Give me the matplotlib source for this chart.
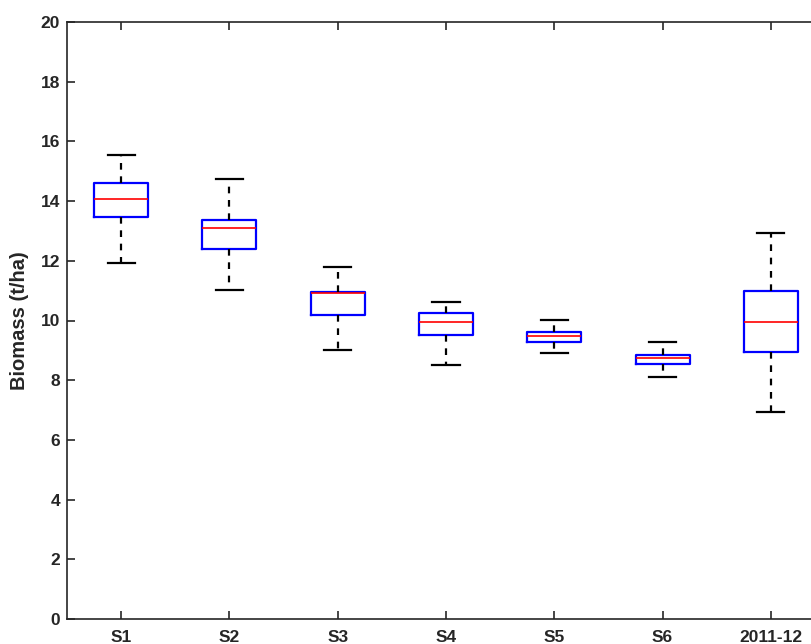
import matplotlib
matplotlib.use("Agg")
import matplotlib.pyplot as plt

# Box statistics (t/ha)
groups = ["S1", "S2", "S3", "S4", "S5", "S6", "2011-12"]
whisker_low = [11.92, 11.03, 9.01, 8.51, 8.90, 8.10, 6.93]
q1 = [13.46, 12.40, 10.17, 9.52, 9.28, 8.53, 8.94]
median = [14.08, 13.10, 10.91, 9.96, 9.47, 8.76, 9.95]
q3 = [14.62, 13.37, 10.97, 10.24, 9.60, 8.85, 10.99]
whisker_high = [15.56, 14.75, 11.80, 10.61, 10.02, 9.27, 12.93]

plt.rcParams["font.family"] = ["Liberation Sans", "DejaVu Sans"]
plt.rcParams["font.weight"] = "bold"

axis_color = "#262626"

fig = plt.figure(figsize=(8.12, 6.44), dpi=100)
# right edge of the axes runs past the figure, as in the cropped reference
ax = fig.add_axes([67 / 812, 1 - 619 / 644, 758 / 812, 597 / 644])

stats = []
for i, name in enumerate(groups):
    stats.append({
        "label": name,
        "whislo": whisker_low[i],
        "q1": q1[i],
        "med": median[i],
        "q3": q3[i],
        "whishi": whisker_high[i],
        "fliers": [],
    })

ax.bxp(
    stats,
    positions=range(1, len(groups) + 1),
    widths=0.5,
    showfliers=False,
    boxprops=dict(color="blue", linewidth=1.6),
    medianprops=dict(color="red", linewidth=1.2),
    whiskerprops=dict(color="black", linestyle=(0, (3, 3)), linewidth=1.6),
    capprops=dict(color="black", linewidth=1.6),
    capwidths=0.25,
)

ax.set_xlim(0.5, 7.5)
ax.set_ylim(0, 20)
ax.set_yticks(range(0, 21, 2))
ax.set_xticks(range(1, len(groups) + 1))
ax.set_xticklabels(groups)

for spine in ax.spines.values():
    spine.set_color(axis_color)
    spine.set_linewidth(1.2)

ax.tick_params(direction="in", top=True, right=True, length=6, width=1.2,
               colors=axis_color, labelsize=12.5)
ax.tick_params(axis="x", pad=8)
ax.tick_params(axis="y", pad=5)
for lbl in ax.get_xticklabels() + ax.get_yticklabels():
    lbl.set_fontweight("bold")

ax.set_ylabel("Biomass (t/ha)", fontsize=14.5, fontweight="bold", color=axis_color, labelpad=8)

fig.savefig("out.png", dpi=100)
